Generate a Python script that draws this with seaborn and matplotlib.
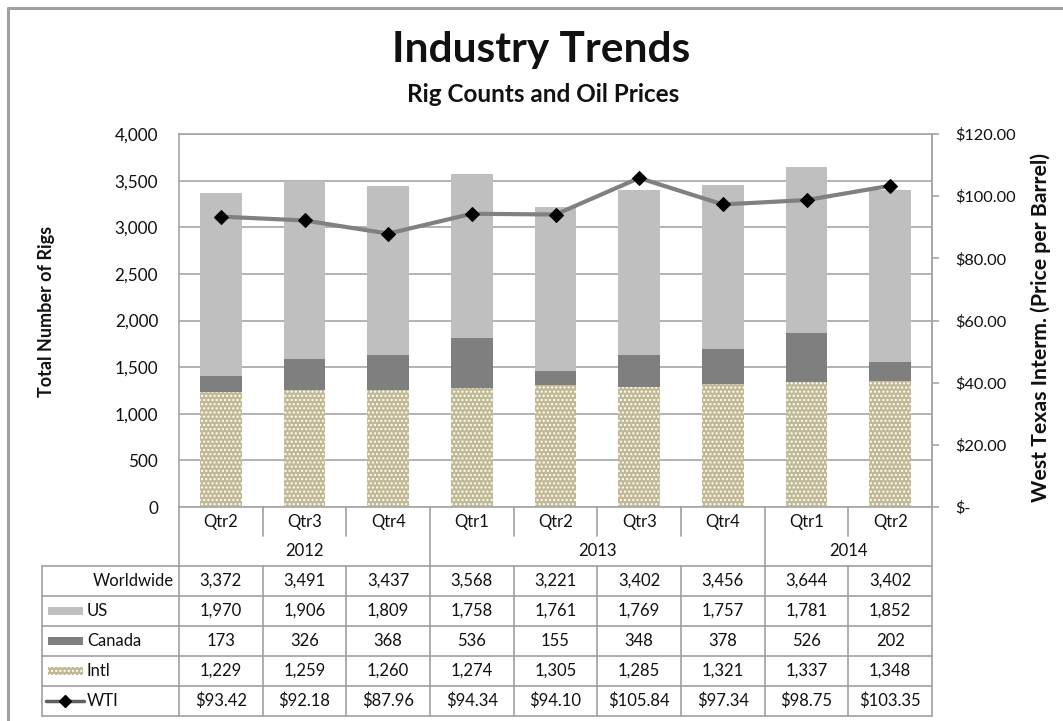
import numpy as np
import matplotlib
matplotlib.use("Agg")
import matplotlib.pyplot as plt
import matplotlib.transforms as mtransforms
from matplotlib.patches import Rectangle
from matplotlib.lines import Line2D
import seaborn as sns

# ---------------- data ----------------
quarters = ["Qtr2", "Qtr3", "Qtr4", "Qtr1", "Qtr2", "Qtr3", "Qtr4", "Qtr1", "Qtr2"]
years = ["2012", "2013", "2014"]
year_sizes = [3, 4, 2]
worldwide = [3372, 3491, 3437, 3568, 3221, 3402, 3456, 3644, 3402]
us = [1970, 1906, 1809, 1758, 1761, 1769, 1757, 1781, 1852]
canada = [173, 326, 368, 536, 155, 348, 378, 526, 202]
intl = [1229, 1259, 1260, 1274, 1305, 1285, 1321, 1337, 1348]
wti = [93.42, 92.18, 87.96, 94.34, 94.10, 105.84, 97.34, 98.75, 103.35]

C_US = "#bfbfbf"
C_CA = "#7f7f7f"
C_INTL = "#c0b993"
C_GRID = "#a6a6a6"
C_TXT = "#111111"
FS = 12

W, H = 1063, 721
sns.set_theme(style="white")
plt.rcParams["font.family"] = ["Lato", "DejaVu Sans"]
plt.rcParams["hatch.linewidth"] = 1.0
plt.rcParams["hatch.color"] = "white"

fig = plt.figure(figsize=(W / 100, H / 100), dpi=100)
fig.patch.set_facecolor("white")
ax = fig.add_axes([179 / W, 1 - 507 / H, (932 - 179) / W, (507 - 134) / H])

pos = np.arange(len(quarters))
us_a = np.array(us)
ca_a = np.array(canada)
in_a = np.array(intl)
BW = 0.5

# stacked bars drawn back-to-front with cumulative heights
sns.barplot(x=pos, y=in_a + ca_a + us_a, color=C_US, width=BW, ax=ax,
            saturation=1, linewidth=0, zorder=2)
sns.barplot(x=pos, y=in_a + ca_a, color=C_CA, width=BW, ax=ax,
            saturation=1, linewidth=0, zorder=2)
sns.barplot(x=pos, y=in_a, color=C_INTL, width=BW, ax=ax,
            saturation=1, linewidth=0, edgecolor="white", hatch="....", zorder=2)

ax.set_xlim(-0.5, len(quarters) - 0.5)
ax.set_ylim(0, 4000)
ax.set_yticks(np.arange(0, 4001, 500))
ax.set_yticklabels([f"{v:,}" for v in np.arange(0, 4001, 500)])
ax.yaxis.grid(True, color=C_GRID, linewidth=1.2, zorder=0)
ax.set_axisbelow(True)
ax.set_xticks([])
ax.set_xlabel("")
ax.set_ylabel("")
ax.tick_params(axis="y", length=0, pad=15, labelsize=12.3, labelcolor=C_TXT)
for s in ["left", "bottom", "right", "top"]:
    ax.spines[s].set_visible(True)
    ax.spines[s].set_color(C_GRID)
    ax.spines[s].set_linewidth(1.2)

ax2 = ax.twinx()
sns.lineplot(x=pos, y=wti, ax=ax2, color="#808080", linewidth=3,
             marker="D", markersize=7, markerfacecolor="black",
             markeredgecolor="black", zorder=5)
ax2.set_ylim(0, 120)
ax2.set_xlim(-0.5, len(quarters) - 0.5)
ax2.set_yticks(np.arange(0, 121, 20))
ax2.set_yticklabels(["$-"] + [f"${v:.2f}" for v in np.arange(20, 121, 20)])
ax2.tick_params(axis="y", right=True, length=5, width=1.2, color=C_GRID,
                pad=12, labelsize=11.8, labelcolor=C_TXT)
ax2.set_ylabel("")
for s in ax2.spines.values():
    s.set_visible(False)
ax2.spines["right"].set_visible(True)
ax2.spines["right"].set_color(C_GRID)
ax2.spines["right"].set_linewidth(1.2)

# ---------------- titles ----------------
px = mtransforms.Affine2D().scale(1 / W, -1 / H).translate(0, 1) + fig.transFigure
fig.text(541, 50, "Industry Trends", transform=px, ha="center", va="center",
         fontsize=30.5, fontweight="bold", color=C_TXT)
fig.text(543, 95, "Rig Counts and Oil Prices", transform=px, ha="center", va="center",
         fontsize=17.5, fontweight="bold", color=C_TXT)
fig.text(47, 311, "Total Number of Rigs", transform=px, ha="center", va="center",
         rotation=90, fontsize=13, fontweight="bold", color=C_TXT)
fig.text(1041, 328, "West Texas Interm. (Price per Barrel)", transform=px,
         ha="center", va="center", rotation=90, fontsize=15.3, fontweight="bold",
         color=C_TXT)

# outer chart border
fig.add_artist(Line2D([8, 8], [8, 721], transform=px, color="#a0a0a0", lw=2.2))
fig.add_artist(Line2D([8, 1063], [8, 8], transform=px, color="#a0a0a0", lw=2.2))

# ---------------- category axis + data table ----------------
bt = mtransforms.blended_transform_factory(ax.transData, px)
n = len(quarters)
y_axis, y_qtr_end, y_tab = 507, 536, 566
row_lines = [566, 596, 626, 656, 686, 716]
LC = "#a0a0a0"

def hline(x0, x1, y, tr=bt, lw=1.2):
    fig.add_artist(Line2D([x0, x1], [y, y], transform=tr, color=LC, lw=lw, clip_on=False))

def vline(x, y0, y1, tr=bt, lw=1.2):
    fig.add_artist(Line2D([x, x], [y0, y1], transform=tr, color=LC, lw=lw, clip_on=False))

# year boundaries
bounds = np.concatenate([[0], np.cumsum(year_sizes)]) - 0.5
for i in range(n + 1):
    b = i - 0.5
    if np.any(np.isclose(bounds, b)):
        vline(b, y_axis, y_tab)
    else:
        vline(b, y_axis, y_qtr_end)
for i, q in enumerate(quarters):
    fig.text(i, 522, q, transform=bt, ha="center", va="center", fontsize=FS, color=C_TXT)
for k, yr in enumerate(years):
    mid = (bounds[k] + bounds[k + 1]) / 2
    fig.text(mid, 551, yr, transform=bt, ha="center", va="center", fontsize=FS, color=C_TXT)

# table grid
for y in row_lines:
    hline(42, 932, y, tr=px)
vline(42, row_lines[0], row_lines[-1], tr=px)
for i in range(n + 1):
    vline(i - 0.5, row_lines[0], row_lines[-1])

rows = [
    ("Worldwide", [f"{v:,}" for v in worldwide]),
    ("US", [f"{v:,}" for v in us]),
    ("Canada", [f"{v:,}" for v in canada]),
    ("Intl", [f"{v:,}" for v in intl]),
    ("WTI", [f"${v:.2f}" for v in wti]),
]
for r, (label, vals) in enumerate(rows):
    yc = (row_lines[r] + row_lines[r + 1]) / 2
    for i, s in enumerate(vals):
        fig.text(i, yc, s, transform=bt, ha="center", va="center", fontsize=FS, color=C_TXT)
    if label == "Worldwide":
        fig.text(174, yc, label, transform=px, ha="right", va="center", fontsize=FS, color=C_TXT)
    else:
        fig.text(87, yc, label, transform=px, ha="left", va="center", fontsize=FS, color=C_TXT)

# legend keys
def key_rect(yc, color, hatch=None):
    r = Rectangle((48, yc - 4), 35, 8, transform=px, facecolor=color,
                  edgecolor="white" if hatch else "none", linewidth=0,
                  hatch=hatch, clip_on=False)
    fig.add_artist(r)

key_rect((row_lines[1] + row_lines[2]) / 2, C_US)
key_rect((row_lines[2] + row_lines[3]) / 2, C_CA)
key_rect((row_lines[3] + row_lines[4]) / 2, C_INTL, hatch="....")
yw = (row_lines[4] + row_lines[5]) / 2
fig.add_artist(Line2D([46, 84], [yw, yw], transform=px, color="#606060", lw=2.5))
fig.add_artist(Line2D([65], [yw], transform=px, marker="D", markersize=6,
                      color="black", linestyle="none"))

fig.savefig("out.png", dpi=100, facecolor="white")
